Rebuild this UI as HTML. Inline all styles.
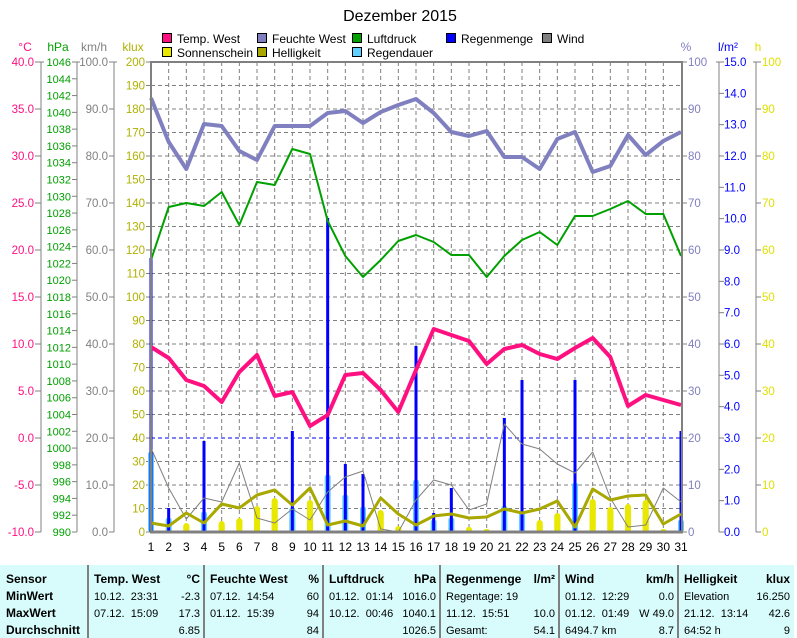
<!DOCTYPE html>
<html><head><meta charset="utf-8">
<style>
html,body{margin:0;padding:0;background:#fff;}
svg{display:block;font-family:"Liberation Sans",sans-serif;}
</style></head>
<body>
<svg id="s" width="797" height="638" xmlns="http://www.w3.org/2000/svg"></svg>
<script>
const S=document.getElementById('s');let h='';
const X=d=>151+(d-1)*17.667;
const T=(x,y,t,c,a,sz,extra)=>{h+=`<text x="${x}" y="${y}" fill="${c}" font-size="${sz||12}" text-anchor="${a||'start'}" ${extra||''}>${t}</text>`;};
const L=(x1,y1,x2,y2,c,w,extra)=>{h+=`<line x1="${x1}" y1="${y1}" x2="${x2}" y2="${y2}" stroke="${c}" stroke-width="${w||1}" ${extra||''}/>`;};
T(400,21,'Dezember 2015','#000','middle',16);
const leg=[[162,33,'#ff1080','Temp. West'],[257,33,'#8080c0','Feuchte West'],[352,33,'#00a000','Luftdruck'],[446,33,'#0000ff','Regenmenge'],[542,33,'#808080','Wind'],
[162,47,'#e8e800','Sonnenschein'],[257,47,'#a8a800','Helligkeit'],[352,47,'#60d0ff','Regendauer']];
leg.forEach(l=>{h+=`<rect x="${l[0]+0.5}" y="${l[1]+0.5}" width="9" height="9" fill="${l[2]}" stroke="#000"/>`;T(l[0]+15,l[1]+10,l[3],'#000','start',12);});
for(let d=2;d<=30;d++)L(X(d),62,X(d),532,'#808080',1,'stroke-dasharray="4,3"');
for(let i=1;i<20;i++){const y=62+i*23.5;L(151,y,682,y,'#808080',1,'stroke-dasharray="4,3"');}
L(151,438,682,438,'#0000ff',1,'stroke-dasharray="4,3"');
T(25,51,'°C','#ff1080','middle',12);T(58,51,'hPa','#00a000','middle',12);T(94,51,'km/h','#808080','middle',12);T(133,51,'klux','#b0b000','middle',12);
T(686,51,'%','#8080c0','middle',12);T(728,51,'l/m²','#0000ff','middle',12);T(758,51,'h','#e0e000','middle',12);
L(41,62,41,532,'#808080');L(77,62,77,532,'#808080');L(114,62,114,532,'#808080');
L(38,62,44,62,'#808080');L(74,62,80,62,'#808080');L(111,62,117,62,'#808080');
for(let i=0;i<=10;i++){const y=62+i*47;L(35,y,41,y,'#808080');T(34,y+4,(40-5*i).toFixed(1),'#ff1080','end',11.5);}
for(let i=0;i<=28;i++){const y=62+i*470/28;L(72,y,77,y,'#808080');T(71,y+4,1046-2*i,'#00a000','end',11);}
for(let i=0;i<=10;i++){const y=62+i*47;L(109,y,114,y,'#808080');T(108,y+4,(100-10*i).toFixed(1),'#808080','end',11.5);}
for(let i=0;i<=20;i++){const y=62+i*23.5;L(146,y,151,y,'#808080');T(145,y+4,200-10*i,'#b0b000','end',11.5);}
L(719,62,719,532,'#808080');L(756,62,756,532,'#808080');L(716,62,722,62,'#808080');L(753,62,759,62,'#808080');
for(let i=0;i<=10;i++){const y=62+i*47;L(682,y,687,y,'#808080');T(688,y+4,100-10*i,'#8080c0','start',11.5);}
for(let i=0;i<=15;i++){const y=62+i*470/15;L(719,y,724,y,'#808080');T(724,y+4,(15-i).toFixed(1),'#0000ff','start',11.5);}
for(let i=0;i<=10;i++){const y=62+i*47;L(756,y,761,y,'#808080');T(762,y+4,100-10*i,'#e0e000','start',11.5);}
for(let d=1;d<=31;d++)T(X(d),551,d,'#000','middle',12);
const sun={1:528,2:527,3:523,5:521,6:518,7:506,8:498,9:517,10:500,14:510,15:526,17:527,18:525,19:527,20:529,21:520,22:525,23:520,24:513,26:499,27:507,28:504,29:500,30:529,31:525};
for(const d in sun){const x=X(+d);h+=`<rect x="${x-3}" y="${sun[d]}" width="6" height="${532-sun[d]}" rx="3" fill="#e8e800"/><rect x="${x-3}" y="${sun[d]+3}" width="6" height="${Math.max(0,529-sun[d])}" fill="#e8e800"/>`;}
const dur={1:452,2:518,4:512,9:508,11:475,12:495,13:507,16:480,17:520,18:518,21:506,22:512,25:483,31:520};
for(const d in dur){const x=X(+d);h+=`<rect x="${x-3}" y="${dur[d]}" width="6" height="${532-dur[d]}" rx="2" fill="#60d0ff"/>`;}
const rain={1:258,2:508,4:441,9:431,11:218,12:464,13:474,16:346,17:513,18:488,21:418,22:380,25:380,31:431};
for(const d in rain){const x=X(+d);h+=`<rect x="${x-1.5}" y="${rain[d]}" width="3" height="${532-rain[d]}" fill="#0000ff"/>`;}
const P=(arr,c,w)=>{h+=`<polyline fill="none" stroke="${c}" stroke-width="${w}" stroke-linejoin="round" points="${arr.map((y,i)=>X(i+1).toFixed(1)+','+y).join(' ')}"/>`;};
P([448,488,519,498,502,463,518,523,509,520,492,477,471,529,532,500,480,485,510,504,424,444,449,464,473,452,498,527,525,488,502],'#808080',1);
P([523,526,513,523,504,508,495,490,505,488,525,521,526,498,514,525,516,514,518,517,509,513,509,501,527,489,500,496,495,524,514],'#a8a800',3);
P([98,142,169,124,126,151,160,126,126,126,113,111,123,112,105,99,113,132,136,131,157,157,169,139,132,172,166,135,155,141,132],'#8080c0',4);
P([260,207,203,206,192,225,182,185,149,154,221,256,277,260,241,235,242,255,255,277,256,240,232,245,216,216,209,201,214,214,256],'#00a000',2);
P([347,358,380,386,402,372,355,396,392,426,415,375,373,390,412,370,329,335,341,364,349,345,354,359,348,338,357,406,395,400,405],'#ff1080',4);
L(151,61,151,533,'#808080',2);L(150,62,683,62,'#808080',2);L(682,61,682,533,'#808080',2);L(150,532,683,532,'#808080',3);
h+=`<rect x="0" y="565" width="794" height="73" fill="#d8fcfc"/>`;
[88,204,323,440,559,678].forEach(x=>L(x,565,x,638,'#808080',2));
const rows=[583,600,617,634];
const B='font-weight="bold"';
T(6,rows[0],'Sensor','#000','start',12,B);T(6,rows[1],'MinWert','#000','start',12,B);T(6,rows[2],'MaxWert','#000','start',12,B);T(6,rows[3],'Durchschnitt','#000','start',12,B);
const cols=[[88,204,'Temp. West','°C',[['10.12.  23:31','-2.3'],['07.12.  15:09','17.3'],['','6.85']]],
[204,323,'Feuchte West','%',[['07.12.  14:54','60'],['01.12.  15:39','94'],['','84']]],
[323,440,'Luftdruck','hPa',[['01.12.  01:14','1016.0'],['10.12.  00:46','1040.1'],['','1026.5']]],
[440,559,'Regenmenge','l/m²',[['Regentage: 19',''],['11.12.  15:51','10.0'],['Gesamt:','54.1']]],
[559,678,'Wind','km/h',[['01.12.  12:29','0.0'],['01.12.  01:49','W 49.0'],['6494.7 km','8.7']]],
[678,794,'Helligkeit','klux',[['Elevation','16.250'],['21.12.  13:14','42.6'],['64:52 h','9']]]];
cols.forEach(c=>{T(c[0]+6,rows[0],c[2],'#000','start',12,B);T(c[1]-4,rows[0],c[3],'#000','end',12,B);
c[4].forEach((r,i)=>{T(c[0]+6,rows[i+1],r[0],'#000','start',11,'xml:space="preserve"');T(c[1]-4,rows[i+1],r[1],'#000','end',11);});});
S.innerHTML=h;
</script>
</body></html>
